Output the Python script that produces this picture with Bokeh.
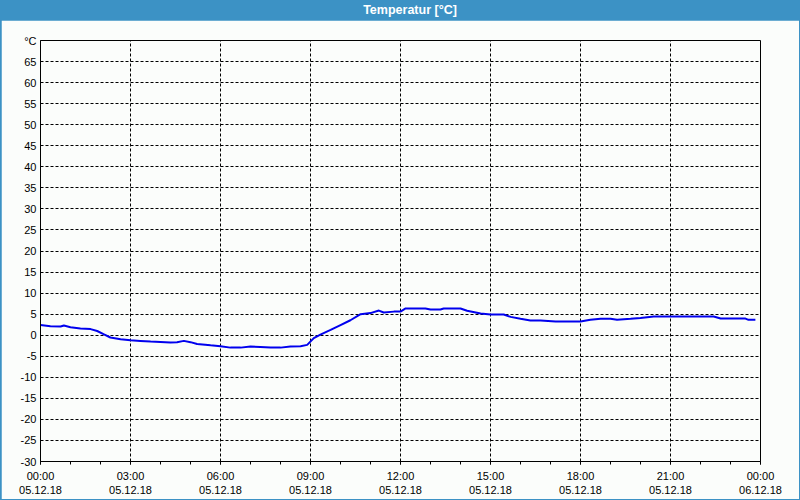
from bokeh.plotting import figure
from bokeh.models import Range1d, FixedTicker, Div
from bokeh.layouts import column
from bokeh.embed import file_html
from bokeh.resources import INLINE

hours = [0, 0.33, 0.67, 0.78, 1.0, 1.33, 1.67, 1.89, 2.1, 2.33,
         2.67, 3.0, 3.33, 3.67, 4.0, 4.33, 4.55, 4.78, 5.0, 5.22,
         5.67, 6.0, 6.33, 6.67, 7.0, 7.33, 7.67, 8.0, 8.33, 8.67,
         8.89, 9.11, 9.33, 9.67, 10.0, 10.33, 10.67, 11.0, 11.28, 11.44,
         11.78, 12.0, 12.17, 12.83, 13.0, 13.33, 13.44, 14.0, 14.22, 14.67,
         15.0, 15.44, 15.67, 16.0, 16.33, 16.67, 17.17, 18.0, 18.33, 18.67,
         19.0, 19.22, 19.67, 20.0, 20.44, 22.44, 22.67, 23.5, 23.6, 23.83]
temps = [2.4, 2.1, 2.05, 2.3, 1.9, 1.6, 1.45, 1.0, 0.25, -0.55,
         -0.95, -1.2, -1.35, -1.5, -1.6, -1.75, -1.65, -1.35, -1.65, -2.1,
         -2.4, -2.6, -2.95, -2.95, -2.7, -2.8, -2.95, -2.95, -2.7, -2.6,
         -2.3, -0.7, 0.15, 1.25, 2.4, 3.55, 5.0, 5.25, 5.85, 5.4,
         5.6, 5.6, 6.35, 6.35, 6.1, 6.1, 6.35, 6.35, 5.8, 5.15,
         4.9, 4.9, 4.35, 3.9, 3.5, 3.5, 3.25, 3.25, 3.65, 3.9,
         3.9, 3.65, 3.9, 4.1, 4.45, 4.45, 3.95, 3.95, 3.65, 3.65]

x_ticks = [0, 3, 6, 9, 12, 15, 18, 21, 24]
x_tick_labels = ["00:00\n05.12.18", "03:00\n05.12.18", "06:00\n05.12.18",
                 "09:00\n05.12.18", "12:00\n05.12.18", "15:00\n05.12.18",
                 "18:00\n05.12.18", "21:00\n05.12.18", "00:00\n06.12.18"]
x_minor = list(range(0, 25))
y_ticks = list(range(-30, 75, 5))
y_tick_labels = [str(v) for v in y_ticks[:-1]] + ["°C"]
title_text = "Temperatur [°C]"

BG = "#fbfdfb"
BLUE = "#3c92c5"
FONT = "Liberation Sans"

p = figure(width=798, height=479, output_backend="svg", toolbar_location=None,
           x_range=Range1d(0, 24), y_range=Range1d(-30, 70),
           min_border_left=39, min_border_right=39, min_border_top=20, min_border_bottom=38,
           background_fill_color=BG, border_fill_color=BG, outline_line_color="black")

p.line(hours, temps, line_color="#0000ee", line_width=2)

p.xaxis.ticker = FixedTicker(ticks=x_ticks, minor_ticks=x_minor)
p.xaxis.major_label_overrides = dict(zip(x_ticks, x_tick_labels))
p.xaxis.major_tick_out = 3
p.xaxis.major_tick_in = 0
p.xaxis.minor_tick_out = 3
p.xaxis.minor_tick_in = 0
p.xaxis.major_label_standoff = 5

p.yaxis.ticker = FixedTicker(ticks=y_ticks)
p.yaxis.major_label_overrides = dict(zip(y_ticks, y_tick_labels))
p.yaxis.major_tick_out = 0
p.yaxis.major_tick_in = 0
p.yaxis.minor_tick_out = 0
p.yaxis.minor_tick_in = 0
p.yaxis.major_label_standoff = 4

for ax in (p.xaxis, p.yaxis):
    ax.axis_line_color = "black"
    ax.major_label_text_font = FONT
    ax.major_label_text_font_size = "11px"
    ax.major_label_text_color = "black"
    ax.major_tick_line_color = "black"
    ax.minor_tick_line_color = "black"

p.xgrid.ticker = FixedTicker(ticks=x_ticks[1:-1])
p.ygrid.ticker = FixedTicker(ticks=y_ticks[1:-1])
for g in (p.xgrid, p.ygrid):
    g.grid_line_color = "black"
    g.grid_line_dash = "3 2"
    g.grid_line_width = 1

title = Div(text=title_text, width=800, height=20,
            styles={"background-color": BLUE, "color": "white", "font-weight": "bold",
                    "font-family": FONT, "font-size": "12.5px", "text-align": "center",
                    "line-height": "20px", "margin": "0", "padding": "0 0 0 20px",
                    "box-sizing": "border-box"})
framed = column(p, spacing=0,
                styles={"background-color": BLUE, "padding": "0 1px 1px 1px"})
layout = column(title, framed, spacing=0)

open("out.html", "w").write(file_html(layout, INLINE))
